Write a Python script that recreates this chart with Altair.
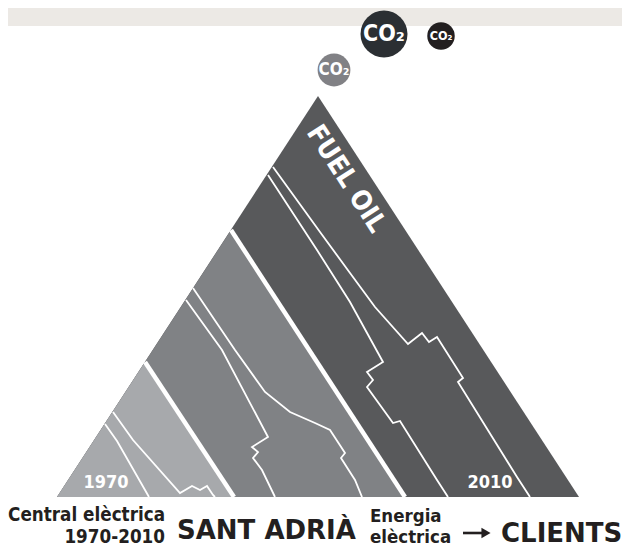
import altair as alt
import pandas as pd

# ---- illustration coordinate system (page pixels) ----
X_DOMAIN = [8, 622]
Y_DOMAIN = [8, 548]
xs = alt.Scale(domain=X_DOMAIN)
ys = alt.Scale(domain=Y_DOMAIN, reverse=True)

# ---- top band ----
band_x = [8, 622]
band_y = [8, 26]

# ---- triangle regions (dark = whole triangle, then middle, then light) ----
region_names = ["dark", "middle", "light"]
region_top_x = [318, 231, 145]
region_top_y = [96, 230, 362]
region_base_right = [579, 405, 234]
region_colors = ["#58595B", "#808285", "#A7A9AC"]
base_left = 57
base_y = 497

# ---- thin white lines inside the stripes ----
thin_lines = {
    "D1": [(273, 167), (320, 232), (350, 273), (375, 307), (408, 344), (422, 333), (429, 342),
           (437, 337), (463, 378), (458, 382), (517, 477), (530, 497)],
    "D2": [(268, 175), (317, 250), (350, 302), (383, 362), (367, 372), (373, 380), (367, 387),
           (393, 423), (400, 421), (437, 480), (448, 497)],
    "M1": [(186, 300), (222, 350), (268, 437), (252, 447), (258, 452), (253, 458), (262, 470),
           (275, 497)],
    "M2": [(193, 288), (235, 350), (265, 392), (290, 412), (315, 423), (330, 430), (345, 453),
           (341, 458), (355, 480), (362, 497)],
    "L1": [(105, 424), (117, 441), (149, 497)],
    "L2": [(113, 412), (133, 440), (180, 493), (192, 486), (200, 490), (207, 486), (213, 495),
           (215, 497)],
}

# ---- CO2 bubbles ----
co2_x = [334, 384, 441]
co2_y = [70, 34, 36]
co2_r = [18.5, 26.5, 15.5]
co2_colors = ["#818185", "#2B2F33", "#231F20"]
co2_font = [17, 23, 12.5]

# ---- labels ----
year_labels = ["1970", "2010"]
year_x = [106, 490]
year_y = [483, 483]

# ---- arrow (Energia -> CLIENTS) ----
arrow_x = [463, 486]
arrow_y = 533

COND = "DejaVu Sans Condensed, DejaVu Sans"
BIG_FONT = "DejaVu Sans"
dark = "#231F20"


def X(f="x"):
    return alt.X(f"{f}:Q", scale=xs, axis=None)


def Y(f="y"):
    return alt.Y(f"{f}:Q", scale=ys, axis=None)


layers = []

# band
band = pd.DataFrame({"x": [band_x[0]], "x2": [band_x[1]], "y": [band_y[0]], "y2": [band_y[1]]})
layers.append(alt.Chart(band).mark_rect(color="#ECE9E5").encode(
    x=X(), x2="x2:Q", y=Y(), y2="y2:Q"))

# regions
for name, tx, ty, br, col in zip(region_names, region_top_x, region_top_y, region_base_right, region_colors):
    df = pd.DataFrame({"y": [ty, base_y], "x": [tx, base_left], "x2": [tx, br]})
    layers.append(alt.Chart(df).mark_area(orient="horizontal", color=col).encode(
        y=Y(), x=X(), x2="x2:Q"))

# thick white separators
rows = []
for name, tx, ty, br in zip(region_names[1:], region_top_x[1:], region_top_y[1:], region_base_right[1:]):
    rows.append({"id": name, "o": 0, "x": tx, "y": ty})
    rows.append({"id": name, "o": 1, "x": br, "y": base_y})
layers.append(alt.Chart(pd.DataFrame(rows)).mark_line(color="white", strokeWidth=4.5).encode(
    x=X(), y=Y(), detail="id:N", order="o:Q"))

# thin lines
rows = []
for k, pts in thin_lines.items():
    for i, (px, py) in enumerate(pts):
        rows.append({"id": k, "o": i, "x": px, "y": py})
layers.append(alt.Chart(pd.DataFrame(rows)).mark_line(color="white", strokeWidth=1.8).encode(
    x=X(), y=Y(), detail="id:N", order="o:Q"))

# CO2 bubbles
for cx, cy, r, col, fs in zip(co2_x, co2_y, co2_r, co2_colors, co2_font):
    d = pd.DataFrame({"x": [cx], "y": [cy], "t": ["CO₂"]})
    layers.append(alt.Chart(d).mark_circle(size=3.14159 * r * r, color=col, opacity=1).encode(x=X(), y=Y()))
    layers.append(alt.Chart(d).mark_text(font=COND, fontWeight="bold", fontSize=fs, color="white",
                                         align="center", baseline="middle").encode(x=X(), y=Y(), text="t:N"))

# FUEL OIL
d = pd.DataFrame({"x": [346], "y": [179], "t": ["FUEL OIL"]})
layers.append(alt.Chart(d).mark_text(font=COND, fontWeight="bold", fontSize=27, color="white",
                                     angle=57, align="center", baseline="middle").encode(x=X(), y=Y(), text="t:N"))

# years
d = pd.DataFrame({"x": year_x, "y": year_y, "t": year_labels})
layers.append(alt.Chart(d).mark_text(font=COND, fontWeight="bold", fontSize=18, color="white",
                                     align="center", baseline="middle").encode(x=X(), y=Y(), text="t:N"))

# bottom labels (two-line labels as single multi-line texts)
d = pd.DataFrame({"x": [165], "y": [521], "t": ["Central elèctrica\n1970-2010"]})
layers.append(alt.Chart(d).mark_text(font=COND, fontWeight="bold", fontSize=18.7, color=dark,
                                     align="right", baseline="alphabetic", lineBreak="\n",
                                     lineHeight=22).encode(x=X(), y=Y(), text="t:N"))
d = pd.DataFrame({"x": [370], "y": [521.5], "t": ["Energia\nelèctrica"]})
layers.append(alt.Chart(d).mark_text(font=COND, fontWeight="bold", fontSize=18.5, color=dark,
                                     align="left", baseline="alphabetic", lineBreak="\n",
                                     lineHeight=21.5).encode(x=X(), y=Y(), text="t:N"))
d = pd.DataFrame({"x": [177, 501], "y": [539, 541.5], "t": ["SANT ADRIÀ", "CLIENTS"]})
layers.append(alt.Chart(d).mark_text(font=BIG_FONT, fontWeight="bold", fontSize=26, color=dark,
                                     align="left", baseline="alphabetic").encode(x=X(), y=Y(), text="t:N"))

# arrow: shaft + head
d = pd.DataFrame({"x": [arrow_x[0]], "x2": [arrow_x[1]], "y": [arrow_y]})
layers.append(alt.Chart(d).mark_rule(color=dark, strokeWidth=2.6).encode(x=X(), x2="x2:Q", y=Y()))
d = pd.DataFrame({"x": [arrow_x[1]], "y": [arrow_y]})
layers.append(alt.Chart(d).mark_point(shape="triangle-right", filled=True, size=110, color=dark,
                                      opacity=1).encode(x=X(), y=Y()))

chart = alt.layer(*layers).properties(
    width=614, height=540, padding=0, autosize=alt.AutoSizeParams(type="none")
).configure_view(stroke=None)

chart.save("out.html", embed_options={"renderer": "svg", "actions": False})
